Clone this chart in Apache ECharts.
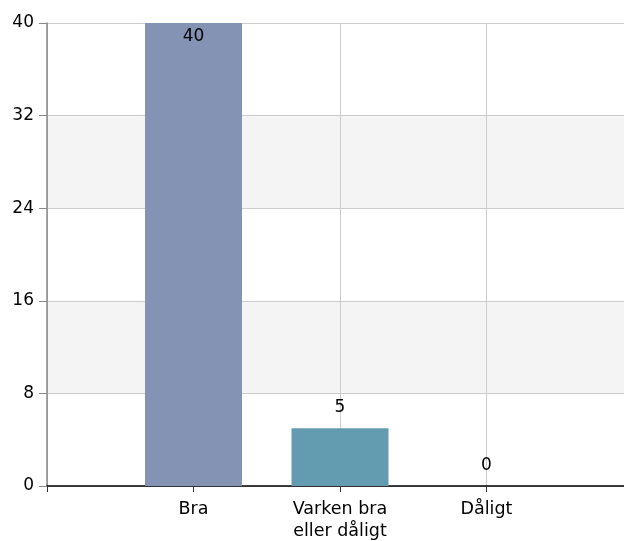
<!DOCTYPE html>
<html><head><meta charset="utf-8">
<script src="https://cdn.jsdelivr.net/npm/echarts@6/dist/echarts.min.js"></script>
<style>html,body{margin:0;padding:0;background:#fff}#c{width:624px;height:541px}</style>
</head><body><div id="c"></div>
<script>
const categories = ['Bra', 'Varken bra\neller dåligt', 'Dåligt'];
const values = [40, 5, 0];
const barColors = ['#8493b3', '#639cb1', '#8fb07a'];
const yTicks = [0, 8, 16, 24, 32, 40];

const axisCats = [''].concat(categories, ['']);
const seriesData = ['-'].concat(values.map((v, i) => ({
  value: v,
  itemStyle: { color: barColors[i] },
  label: v >= 35 ? { position: 'insideTop', distance: 5 } : { position: 'top', distance: 12 }
})), ['-']);

const chart = echarts.init(document.getElementById('c'), null, { renderer: 'canvas' });
const font = '"DejaVu Sans", Verdana, sans-serif';
chart.setOption({
  animation: false,
  grid: { left: 47, width: 586, top: 23, bottom: 55, containLabel: false, outerBoundsMode: 'none' },
  xAxis: {
    type: 'category',
    data: axisCats,
    boundaryGap: false,
    axisLine: { lineStyle: { color: '#000', width: 1.5 } },
    axisTick: { show: true, length: 6, lineStyle: { color: '#333' } },
    axisLabel: { color: '#000', fontSize: 17.5, fontFamily: font, margin: 12, lineHeight: 22, interval: 0 },
    splitLine: { show: true, lineStyle: { color: '#cccccc' } }
  },
  yAxis: {
    type: 'value',
    min: yTicks[0], max: yTicks[yTicks.length - 1], interval: 8,
    axisLine: { show: true, lineStyle: { color: '#888', width: 1.5 } },
    axisTick: { show: true, length: 8, lineStyle: { color: '#888' } },
    axisLabel: { color: '#000', fontSize: 17, fontFamily: font, margin: 13 },
    splitLine: { show: true, lineStyle: { color: '#cccccc' } },
    splitArea: { show: true, areaStyle: { color: ['#ffffff', '#f4f4f4'] } }
  },
  series: [{
    type: 'bar',
    data: seriesData,
    barWidth: 97,
    label: { show: true, color: '#000', fontSize: 17, fontFamily: font }
  }]
});
</script></body></html>
